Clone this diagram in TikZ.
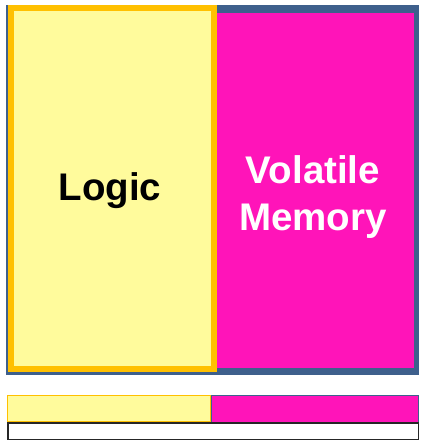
\documentclass[tikz,border=0pt]{standalone}
\usepackage{fontspec}
\setmainfont{Liberation Sans}
\definecolor{frameblue}{RGB}{62,96,140}
\definecolor{memmagenta}{RGB}{255,20,185}
\definecolor{logicyellow}{RGB}{255,251,156}
\definecolor{logicorange}{RGB}{255,192,0}
\begin{document}
\begin{tikzpicture}[x=1pt,y=-1pt,
  label/.style={font=\bfseries\fontsize{38.5}{47}\selectfont, align=center, inner sep=0pt}]
\useasboundingbox (0,0) rectangle (423,447);
% outer frame with the memory region
\fill[frameblue] (6,5) rectangle (419,375);
\fill[memmagenta] (217,13) rectangle (414,368);
% logic region
\draw[logicorange, line width=6pt, fill=logicyellow] (11,8) rectangle (214,369);
% labels
\node[label, black] (logic) at (110,191) {Logic};
\node[label, white] (mem) at (313,197) {Volatile\\Memory};
% proportion bar below
\draw[logicorange, line width=1.2pt, fill=logicyellow] (7.6,395.6) rectangle (211,422);
\draw[frameblue, line width=1pt, fill=memmagenta] (211,395.5) rectangle (418.5,422);
\draw[black!85, line width=1.5pt, fill=white] (7.75,422.75) rectangle (418.25,439.25);
\end{tikzpicture}
\end{document}
